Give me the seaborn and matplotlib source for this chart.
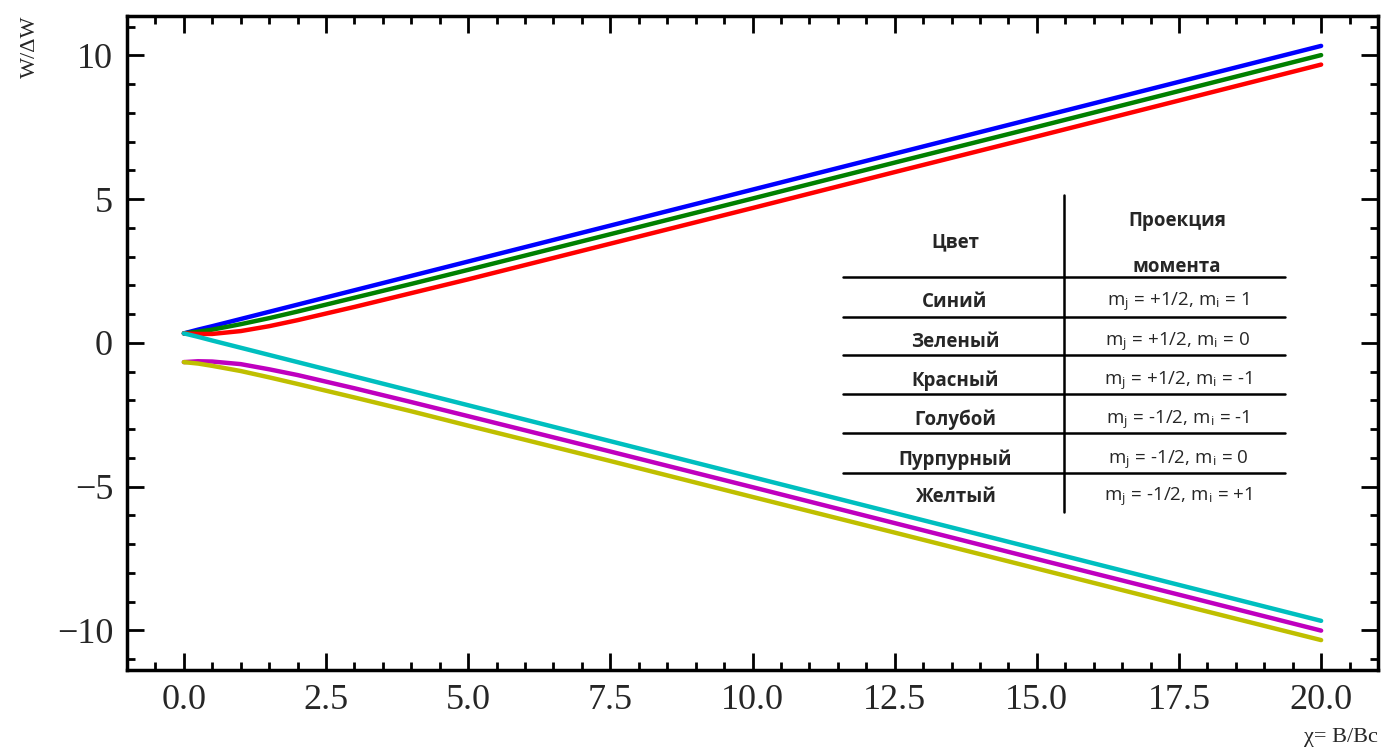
import numpy as np
import pandas as pd
import seaborn as sns
import matplotlib.pyplot as plt
from matplotlib.ticker import MultipleLocator

# Zeeman levels (Breit-Rabi picture).
x = [0, 0.25, 0.5, 1, 1.5, 2, 3, 4, 5, 7.5, 10, 12.5, 15, 17.5, 20]

blue    = [0.33, 0.46, 0.58, 0.83, 1.08, 1.33, 1.83, 2.33, 2.83, 4.08, 5.33, 6.58, 7.83, 9.08, 10.33]
green   = [0.33, 0.39, 0.46, 0.65, 0.86, 1.09, 1.57, 2.05, 2.54, 3.78, 5.02, 6.27, 7.51, 8.76, 10.01]
red     = [0.33, 0.31, 0.31, 0.41, 0.58, 0.79, 1.25, 1.73, 2.21, 3.45, 4.69, 5.94, 7.18, 8.43, 9.68]
cyan    = [0.33, 0.21, 0.08, -0.17, -0.42, -0.67, -1.17, -1.67, -2.17, -3.42, -4.67, -5.92, -7.17, -8.42, -9.67]
magenta = [-0.67, -0.64, -0.65, -0.74, -0.92, -1.12, -1.58, -2.06, -2.55, -3.78, -5.02, -6.27, -7.52, -8.76, -10.01]
yellow  = [-0.67, -0.72, -0.80, -0.98, -1.20, -1.43, -1.90, -2.38, -2.88, -4.11, -5.36, -6.60, -7.85, -9.10, -10.34]

series = {'b': blue, 'g': green, 'r': red, 'c': cyan, 'm': magenta, 'y': yellow}
palette = {'b': (0, 0, 1), 'g': (0, 0.5, 0), 'r': (1, 0, 0),
           'c': (0, 0.75, 0.75), 'm': (0.75, 0, 0.75), 'y': (0.75, 0.75, 0)}

# Table text.
col_names = ['Цвет', 'Проекция\n\nмомента']
color_names = ['Синий', 'Зеленый', 'Красный', 'Голубой', 'Пурпурный', 'Желтый']
projections = [
    r'm$_\mathregular{j}$ = +1/2, m$_\mathregular{i}$ = 1',
    r'm$_\mathregular{j}$ = +1/2, m$_\mathregular{i}$ = 0',
    r'm$_\mathregular{j}$ = +1/2, m$_\mathregular{i}$ = -1',
    r'm$_\mathregular{j}$ = -1/2, m$_\mathregular{i}$ = -1',
    r'm$_\mathregular{j}$ = -1/2, m$_\mathregular{i}$ = 0',
    r'm$_\mathregular{j}$ = -1/2, m$_\mathregular{i}$ = +1',
]

df = pd.concat([pd.DataFrame({'x': x, 'W': v, 'level': k}) for k, v in series.items()],
               ignore_index=True)

sns.set_style('ticks')
plt.rcParams['font.family'] = ['Liberation Serif', 'DejaVu Serif']
plt.rcParams['mathtext.fontset'] = 'stix'

W, H = 1382, 749
fig = plt.figure(figsize=(W / 100, H / 100), dpi=100)
ax = fig.add_axes([127 / W, 1 - 670 / H, (1378 - 127) / W, (670 - 16) / H])

sns.lineplot(data=df, x='x', y='W', hue='level', palette=palette, linewidth=3.2,
             legend=False, ax=ax)

ax.set_xlim(-1, 21)
ax.set_ylim(-11.38, 11.37)
ax.xaxis.set_minor_locator(MultipleLocator(0.5))
ax.yaxis.set_major_locator(MultipleLocator(5))
ax.yaxis.set_minor_locator(MultipleLocator(1))
ax.set_xticks(np.arange(0, 20.1, 2.5))
ax.set_xticklabels([f'{v:.1f}' for v in np.arange(0, 20.1, 2.5)])
ax.tick_params(which='both', direction='in', top=True, right=True, width=2,
               labelsize=26, color='black')
ax.tick_params(which='major', length=12, pad=10)
ax.tick_params(which='minor', length=6)
for s in ax.spines.values():
    s.set_linewidth(2.5)
    s.set_color('black')

ax.set_xlabel('χ= B/Bc', fontsize=16, loc='right', labelpad=8)
ax.set_ylabel('W/ΔW', fontsize=16, loc='top', labelpad=12)

# Table drawn on top of the figure.
def fx(px):
    return px / W

def fy(py):
    return 1 - py / H

tfont = ['Open Sans', 'DejaVu Sans']
for py in [277, 317, 355, 394, 433, 473]:
    fig.add_artist(plt.Line2D([fx(843), fx(1285)], [fy(py), fy(py)],
                              color='black', lw=1.8))
fig.add_artist(plt.Line2D([fx(1064), fx(1064)], [fy(195), fy(512)], color='black', lw=1.8))

fig.text(fx(955), fy(242), col_names[0], ha='center', va='center',
         fontsize=13.5, fontweight='bold', family=tfont)
fig.text(fx(1177), fy(244), col_names[1], ha='center', va='center',
         fontsize=13.5, fontweight='bold', family=tfont, linespacing=1.2)

rows_y = [302, 342, 381, 420, 460, 497]
for name, proj, py in zip(color_names, projections, rows_y):
    fig.text(fx(955), fy(py), name, ha='center', va='center',
             fontsize=13.5, fontweight='bold', family=tfont)
    fig.text(fx(1178), fy(py), proj, ha='center', va='center',
             fontsize=13.5, family=tfont)

fig.savefig('out.png', dpi=100)
